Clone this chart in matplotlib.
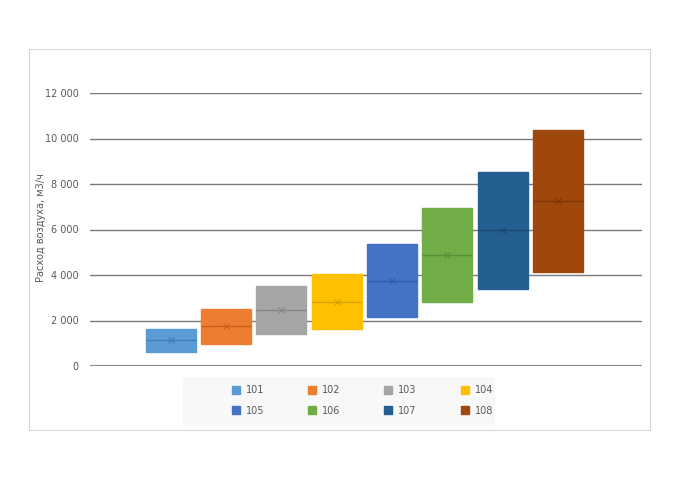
import matplotlib
matplotlib.use("Agg")
import matplotlib.pyplot as plt
from matplotlib.patches import Rectangle
from matplotlib.lines import Line2D

categories = ["101", "102", "103", "104", "105", "106", "107", "108"]
q1 = [630, 980, 1420, 1610, 2140, 2800, 3400, 4150]
median = [1140, 1745, 2460, 2830, 3740, 4880, 5980, 7270]
mean = [1140, 1745, 2460, 2830, 3740, 4880, 5980, 7270]
q3 = [1625, 2490, 3530, 4030, 5350, 6960, 8510, 10370]
colors = ["#5B9BD5", "#ED7D31", "#A5A5A5", "#FFC000", "#4472C4", "#70AD47", "#255E91", "#9E480E"]
dark = ["#3f7fb8", "#c8601a", "#858585", "#d9a200", "#2e5aa8", "#55903a", "#1a4670", "#7e3608"]
yticks = [0, 2000, 4000, 6000, 8000, 10000, 12000]
ytick_labels = ["0", "2 000", "4 000", "6 000", "8 000", "10 000", "12 000"]
ylabel = "Расход воздуха, м3/ч"

W, H = 679, 480
fig = plt.figure(figsize=(W / 100, H / 100), dpi=100)
fig.patch.set_facecolor("white")

# outer chart border
fig.add_artist(Rectangle((29 / W, 1 - 430 / H), (650 - 29) / W, (430 - 49) / H,
                         transform=fig.transFigure, fill=False, edgecolor="#d9d9d9", lw=0.8))

ax = fig.add_axes([90 / W, 1 - 366 / H, (642 - 90) / W, (366 - 93) / H])
positions = list(range(1, len(categories) + 1))
stats = []
for i in range(len(categories)):
    stats.append(dict(med=median[i], q1=q1[i], q3=q3[i], whislo=q1[i], whishi=q3[i],
                      mean=mean[i], fliers=[], label=categories[i]))
bp = ax.bxp(stats, positions=positions, widths=0.9, patch_artist=True, showcaps=False,
            showmeans=True, showfliers=False, manage_ticks=False)
for i, box in enumerate(bp["boxes"]):
    box.set_facecolor(colors[i])
    box.set_edgecolor(colors[i])
    box.set_linewidth(1.0)
    box.set_zorder(3)
for i, med in enumerate(bp["medians"]):
    med.set_color(dark[i])
    med.set_linewidth(1.0)
    med.set_zorder(4)
for i, m in enumerate(bp["means"]):
    m.set_marker("x")
    m.set_markeredgecolor(dark[i])
    m.set_markersize(5)
    m.set_markeredgewidth(0.8)
    m.set_zorder(5)
for w in bp["whiskers"]:
    w.set_visible(False)

ax.set_xlim(-0.46, 9.52)
ax.set_ylim(0, 12000)
ax.set_yticks(yticks)
ax.set_yticklabels(ytick_labels, fontsize=7, color="#595959")
ax.set_xticks([])
ax.tick_params(axis="y", length=0, pad=8)
for y in yticks:
    ax.axhline(y, color="#7a7a7a" if y else "#8c8c8c", lw=1.0 if y else 1.6, zorder=1)
for s in ax.spines.values():
    s.set_visible(False)
ax.set_facecolor("none")
fig.text(41 / W, 1 - 228 / H, ylabel, rotation=90, ha="center", va="center",
         fontsize=7, color="#595959")

# legend (row-major order across 4 columns)
fig.add_artist(Rectangle((183 / W, 1 - 425 / H), (495 - 183) / W, (425 - 377) / H,
                         transform=fig.transFigure, facecolor="#f8f8f8", edgecolor="none"))
handles = [Line2D([], [], marker="s", linestyle="none", markersize=6,
                  markerfacecolor=c, markeredgecolor=c) for c in colors]
order = [0, 4, 1, 5, 2, 6, 3, 7]
leg = fig.legend([handles[k] for k in order], [categories[k] for k in order],
                 loc="center", ncol=4,
                 bbox_to_anchor=(0.533, 1 - 400.5 / H),
                 frameon=False, fontsize=7, labelcolor="#595959",
                 columnspacing=4.45, handletextpad=0.5, handlelength=1.0,
                 labelspacing=1.1)

fig.savefig("out.png", dpi=100)
